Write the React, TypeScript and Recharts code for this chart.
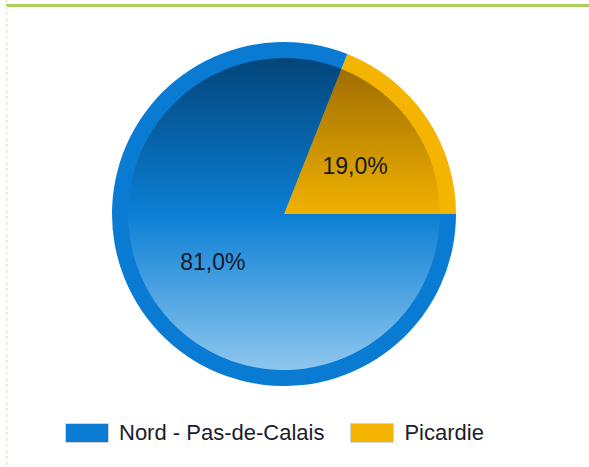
import { Pie, PieChart } from "recharts";

const categories = ["Nord - Pas-de-Calais", "Picardie"];
const shares = [81.0, 19.0];
const colors = ["#0a7bd3", "#f5b400"];

// pie draws Picardie first so it starts at 3 o'clock and goes up
const pieData = categories
  .map((name, i) => ({ name, value: shares[i], idx: i }))
  .reverse();

const CX = 284;
const CY = 214;
const RAD = Math.PI / 180;

const gradients = [
  ["#03457a", "#0b7fd5", "#8fc7ee"],
  ["#9a6800", "#f1b200", "#ffd778"],
];

function formatPct(v: number) {
  return v.toFixed(1).replace(".", ",") + "%";
}

function renderLabel(props: any) {
  const { midAngle, value } = props;
  const r = 86;
  const x = CX + r * Math.cos(-midAngle * RAD);
  const y = CY + r * Math.sin(-midAngle * RAD);
  return (
    <text
      x={x}
      y={y}
      textAnchor="middle"
      dominantBaseline="central"
      fill="#141a26"
      fontSize={23}
      fontFamily="'Liberation Sans', Arial, sans-serif"
    >
      {formatPct(value)}
    </text>
  );
}

function LegendRow() {
  return (
    <div
      style={{
        position: "absolute",
        top: 423,
        left: 65,
        display: "flex",
        alignItems: "center",
        fontFamily: "'Liberation Sans', Arial, sans-serif",
        fontSize: 22,
        color: "#1c1c2c",
      }}
    >
      {categories.map((c, i) => (
        <div key={c} style={{ display: "flex", alignItems: "center", marginRight: i === 0 ? 26 : 0 }}>
          <div
            style={{
              width: 42,
              height: 18,
              background: colors[i],
              border: "1px solid #d0d4d8",
              marginRight: 10,
            }}
          />
          <span style={{ lineHeight: "20px" }}>{c}</span>
        </div>
      ))}
    </div>
  );
}

export default function App() {
  return (
    <div style={{ position: "fixed", left: 0, top: 0, width: 589, height: 467, background: "#fff", overflow: "hidden" }}>
      <div style={{ position: "absolute", left: 0, top: 0 }}>
        <PieChart width={589} height={467} margin={{ top: 0, right: 0, bottom: 0, left: 0 }}>
          <defs>
            {gradients.map((g, i) => (
              <linearGradient
                key={i}
                id={`slice-grad-${i}`}
                gradientUnits="userSpaceOnUse"
                x1={0}
                y1={CY - 156}
                x2={0}
                y2={CY + 156}
              >
                <stop offset="0%" stopColor={g[0]} />
                <stop offset="50%" stopColor={g[1]} />
                <stop offset="100%" stopColor={g[2]} />
              </linearGradient>
            ))}
          </defs>
          <Pie
            data={pieData.map((d) => ({ ...d, fill: colors[d.idx] }))}
            dataKey="value"
            nameKey="name"
            cx={CX}
            cy={CY}
            outerRadius={172}
            startAngle={0}
            endAngle={360}
            stroke="none"
            isAnimationActive={false}
          />
          <Pie
            data={pieData.map((d) => ({ ...d, fill: `url(#slice-grad-${d.idx})` }))}
            dataKey="value"
            nameKey="name"
            cx={CX}
            cy={CY}
            outerRadius={156}
            startAngle={0}
            endAngle={360}
            stroke="none"
            label={renderLabel}
            labelLine={false}
            isAnimationActive={false}
          />
        </PieChart>
      </div>
      <svg width={589} height={467} style={{ position: "absolute", left: 0, top: 0, pointerEvents: "none" }}>
        <line x1={6} y1={5.5} x2={589} y2={5.5} stroke="#a9d15e" strokeWidth={3} />
        <line x1={6.5} y1={0} x2={6.5} y2={467} stroke="#e3f0cc" strokeWidth={2} strokeDasharray="3 3" />
      </svg>
      <LegendRow />
    </div>
  );
}
